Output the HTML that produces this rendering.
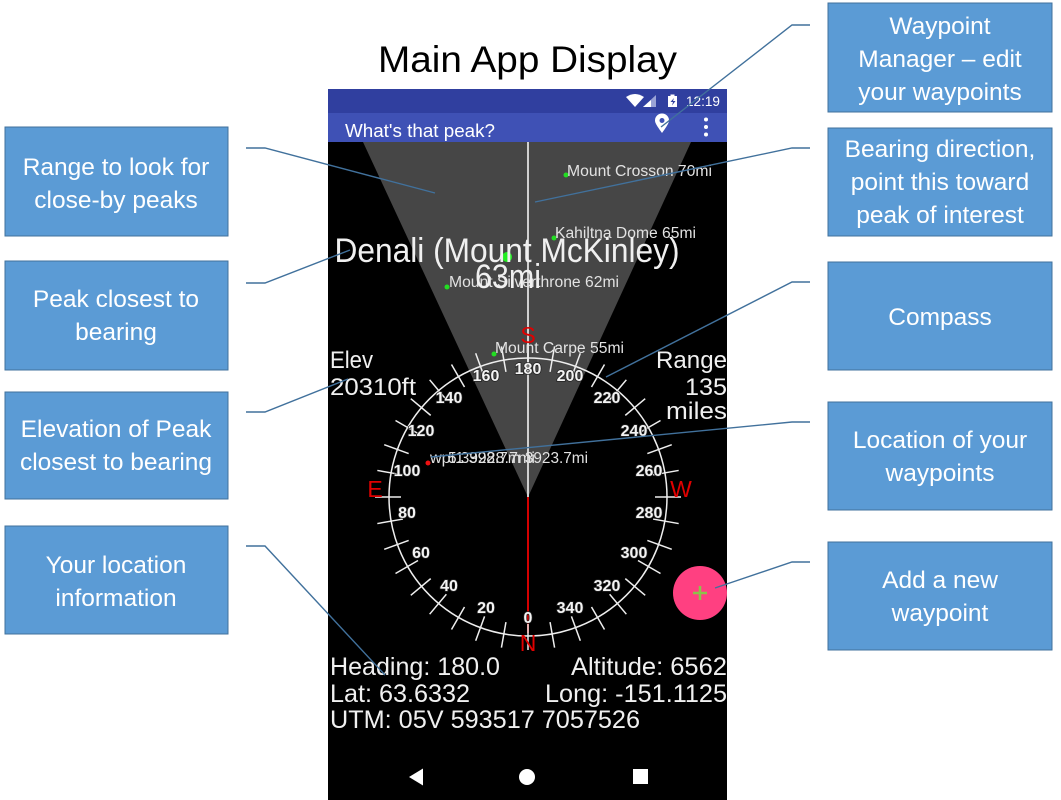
<!DOCTYPE html>
<html><head><meta charset="utf-8"><style>
html,body{margin:0;padding:0;background:#fff;}
svg{display:block;}
</style></head><body>
<svg width="1061" height="800" viewBox="0 0 1061 800" xmlns="http://www.w3.org/2000/svg" font-family="'Liberation Sans', sans-serif">
<defs><clipPath id="ph"><rect x="328" y="89" width="399" height="711"/></clipPath></defs>
<rect width="1061" height="800" fill="#fff"/>
<text x="378" y="72" font-size="37" textLength="299" lengthAdjust="spacingAndGlyphs" fill="#000">Main App Display</text>

<g clip-path="url(#ph)">
  <rect x="328" y="89" width="399" height="24" fill="#303f9f"/>
  <rect x="328" y="113" width="399" height="30" fill="#3f51b5"/>
  <!-- status icons -->
  <path d="M626,97 Q635,91 644,97 L635,107 Z" fill="#fff"/>
  <path d="M643,107 L656,107 L656,95 Z" fill="#9aa3d6"/>
  <path d="M643,107 L651,107 L651,100 Z" fill="#fff"/>
  <rect x="668" y="96" width="9" height="11" fill="#fff"/>
  <rect x="670.5" y="94.5" width="4" height="2" fill="#fff"/>
  <path d="M674,98 L670.5,102 L673,102 L672,105.5 L675.5,101 L673,101 Z" fill="#303f9f"/>
  <text x="686" y="106" font-size="14" textLength="34" lengthAdjust="spacingAndGlyphs" fill="#fff">12:19</text>
  <text x="345" y="137" font-size="18.5" textLength="150" lengthAdjust="spacingAndGlyphs" fill="#fff">What's that peak?</text>
  <path d="M662,133 C657,126 655,123 655,120.5 A7,7 0 0 1 669,120.5 C669,123 667,126 662,133 Z" fill="#fff"/>
  <circle cx="662" cy="120.5" r="2.5" fill="#3f51b5"/>
  <circle cx="706" cy="119.5" r="2" fill="#fff"/>
  <circle cx="706" cy="127" r="2" fill="#fff"/>
  <circle cx="706" cy="134.5" r="2" fill="#fff"/>

  <rect x="328" y="142" width="399" height="658" fill="#000"/>
  <polygon points="363,142 691,142 528,497" fill="#464646"/>
  <line x1="528" y1="142" x2="528" y2="497" stroke="#d0d0d0" stroke-width="2"/>
  <line x1="528" y1="497" x2="528" y2="633" stroke="#d40000" stroke-width="2"/>

  <!-- compass -->
  <g stroke="#eee" stroke-width="1.5" fill="none">
    <circle cx="528" cy="497" r="139"/>
    <line x1="528" y1="624" x2="528" y2="650" transform="rotate(0 528 497)"/>
    <line x1="528" y1="624" x2="528" y2="650" transform="rotate(10 528 497)"/>
    <line x1="528" y1="624" x2="528" y2="650" transform="rotate(20 528 497)"/>
    <line x1="528" y1="624" x2="528" y2="650" transform="rotate(30 528 497)"/>
    <line x1="528" y1="624" x2="528" y2="650" transform="rotate(40 528 497)"/>
    <line x1="528" y1="624" x2="528" y2="650" transform="rotate(50 528 497)"/>
    <line x1="528" y1="624" x2="528" y2="650" transform="rotate(60 528 497)"/>
    <line x1="528" y1="624" x2="528" y2="650" transform="rotate(70 528 497)"/>
    <line x1="528" y1="624" x2="528" y2="650" transform="rotate(80 528 497)"/>
    <line x1="528" y1="624" x2="528" y2="650" transform="rotate(90 528 497)"/>
    <line x1="528" y1="624" x2="528" y2="650" transform="rotate(100 528 497)"/>
    <line x1="528" y1="624" x2="528" y2="650" transform="rotate(110 528 497)"/>
    <line x1="528" y1="624" x2="528" y2="650" transform="rotate(120 528 497)"/>
    <line x1="528" y1="624" x2="528" y2="650" transform="rotate(130 528 497)"/>
    <line x1="528" y1="624" x2="528" y2="650" transform="rotate(140 528 497)"/>
    <line x1="528" y1="624" x2="528" y2="650" transform="rotate(150 528 497)"/>
    <line x1="528" y1="624" x2="528" y2="650" transform="rotate(160 528 497)"/>
    <line x1="528" y1="624" x2="528" y2="650" transform="rotate(170 528 497)"/>
    <line x1="528" y1="624" x2="528" y2="650" transform="rotate(180 528 497)"/>
    <line x1="528" y1="624" x2="528" y2="650" transform="rotate(190 528 497)"/>
    <line x1="528" y1="624" x2="528" y2="650" transform="rotate(200 528 497)"/>
    <line x1="528" y1="624" x2="528" y2="650" transform="rotate(210 528 497)"/>
    <line x1="528" y1="624" x2="528" y2="650" transform="rotate(220 528 497)"/>
    <line x1="528" y1="624" x2="528" y2="650" transform="rotate(230 528 497)"/>
    <line x1="528" y1="624" x2="528" y2="650" transform="rotate(240 528 497)"/>
    <line x1="528" y1="624" x2="528" y2="650" transform="rotate(250 528 497)"/>
    <line x1="528" y1="624" x2="528" y2="650" transform="rotate(260 528 497)"/>
    <line x1="528" y1="624" x2="528" y2="650" transform="rotate(270 528 497)"/>
    <line x1="528" y1="624" x2="528" y2="650" transform="rotate(280 528 497)"/>
    <line x1="528" y1="624" x2="528" y2="650" transform="rotate(290 528 497)"/>
    <line x1="528" y1="624" x2="528" y2="650" transform="rotate(300 528 497)"/>
    <line x1="528" y1="624" x2="528" y2="650" transform="rotate(310 528 497)"/>
    <line x1="528" y1="624" x2="528" y2="650" transform="rotate(320 528 497)"/>
    <line x1="528" y1="624" x2="528" y2="650" transform="rotate(330 528 497)"/>
    <line x1="528" y1="624" x2="528" y2="650" transform="rotate(340 528 497)"/>
    <line x1="528" y1="624" x2="528" y2="650" transform="rotate(350 528 497)"/>
  </g>
  <g font-size="16" font-weight="bold" fill="#f4f4f4" text-anchor="middle" stroke="#222" stroke-width="1.5" paint-order="stroke">
    <text x="528" y="623">0</text>
    <text x="486" y="613">20</text>
    <text x="449" y="591">40</text>
    <text x="421" y="558">60</text>
    <text x="407" y="518">80</text>
    <text x="407" y="476">100</text>
    <text x="421" y="436">120</text>
    <text x="449" y="403">140</text>
    <text x="486" y="381">160</text>
    <text x="528" y="374">180</text>
    <text x="570" y="381">200</text>
    <text x="607" y="403">220</text>
    <text x="634" y="436">240</text>
    <text x="649" y="476">260</text>
    <text x="649" y="518">280</text>
    <text x="634" y="558">300</text>
    <text x="607" y="591">320</text>
    <text x="570" y="613">340</text>
  </g>
  <g font-size="23" fill="#e00000" text-anchor="middle">
    <text x="528" y="343">S</text>
    <text x="375" y="497">E</text>
    <text x="681" y="497">W</text>
    <text x="528" y="651">N</text>
  </g>

  <!-- peaks -->
  <g font-size="15.5" fill="#e2e2e2">
    <circle cx="566" cy="175" r="2.5" fill="#22dd22"/>
    <text x="567" y="176" textLength="145" lengthAdjust="spacingAndGlyphs">Mount Crosson 70mi</text>
    <circle cx="554" cy="238" r="2.5" fill="#22dd22"/>
    <text x="555" y="238" textLength="141" lengthAdjust="spacingAndGlyphs">Kahiltna Dome 65mi</text>
    <circle cx="447" cy="287" r="2.5" fill="#22dd22"/>
    <text x="449" y="287" textLength="170" lengthAdjust="spacingAndGlyphs">Mount Silverthrone 62mi</text>
    <circle cx="494" cy="354" r="2.5" fill="#22dd22"/>
    <text x="495" y="353" textLength="129" lengthAdjust="spacingAndGlyphs">Mount Carpe 55mi</text>
    <circle cx="428" cy="463" r="2.5" fill="#ee1111"/>
    <text x="430" y="463" textLength="105" lengthAdjust="spacingAndGlyphs">wpt1 3928.7mi</text>
    <text x="448" y="463" textLength="140" lengthAdjust="spacingAndGlyphs">5.3928.7m 3923.7mi</text>
  </g>
  <circle cx="507" cy="257" r="5" fill="#22ee22"/>
  <g font-size="34" fill="#f0f0f0" text-anchor="middle">
    <text x="507" y="262" textLength="345" lengthAdjust="spacingAndGlyphs">Denali (Mount McKinley)</text>
    <text x="508" y="288" textLength="66" lengthAdjust="spacingAndGlyphs">63mi</text>
  </g>

  <!-- elev/range -->
  <g font-size="24" fill="#f0f0f0">
    <text x="330" y="368" textLength="43" lengthAdjust="spacingAndGlyphs">Elev</text>
    <text x="330" y="395" textLength="86" lengthAdjust="spacingAndGlyphs">20310ft</text>
    <text x="656" y="368" textLength="71" lengthAdjust="spacingAndGlyphs">Range</text>
    <text x="685" y="395" textLength="42" lengthAdjust="spacingAndGlyphs">135</text>
    <text x="666" y="419" textLength="61" lengthAdjust="spacingAndGlyphs">miles</text>
  </g>

  <!-- FAB -->
  <circle cx="700" cy="593" r="27" fill="#ff4081"/>
  <path d="M700,586 V600 M693,593 H707" stroke="#8bc34a" stroke-width="2.5"/>

  <!-- bottom info -->
  <g font-size="25" fill="#f0f0f0">
    <text x="330" y="675" textLength="170" lengthAdjust="spacingAndGlyphs">Heading: 180.0</text>
    <text x="571" y="675" textLength="156" lengthAdjust="spacingAndGlyphs">Altitude: 6562</text>
    <text x="330" y="702" textLength="140" lengthAdjust="spacingAndGlyphs">Lat: 63.6332</text>
    <text x="545" y="702" textLength="182" lengthAdjust="spacingAndGlyphs">Long: -151.1125</text>
    <text x="330" y="728" textLength="310" lengthAdjust="spacingAndGlyphs">UTM: 05V 593517 7057526</text>
  </g>

  <!-- nav bar -->
  <path d="M409,777 L423,768.5 L423,785.5 Z" fill="#fff"/>
  <circle cx="527" cy="777" r="8" fill="#fff"/>
  <rect x="633" y="769" width="15" height="15" fill="#fff"/>
</g>

<!-- callout boxes -->
<g fill="#5b9bd5" stroke="#41719c" stroke-width="1">
  <rect x="5" y="127" width="223" height="109"/>
  <rect x="5" y="261" width="223" height="109"/>
  <rect x="5" y="392" width="223" height="107"/>
  <rect x="5" y="526" width="223" height="108"/>
  <rect x="828" y="3" width="224" height="109"/>
  <rect x="828" y="128" width="224" height="108"/>
  <rect x="828" y="262" width="224" height="108"/>
  <rect x="828" y="402" width="224" height="108"/>
  <rect x="828" y="542" width="224" height="108"/>
</g>
<g font-size="24.5" fill="#fff" text-anchor="middle">
  <text x="116" y="175">Range to look for</text>
  <text x="116" y="208">close-by peaks</text>
  <text x="116" y="307">Peak closest to</text>
  <text x="116" y="340">bearing</text>
  <text x="116" y="437">Elevation of Peak</text>
  <text x="116" y="470">closest to bearing</text>
  <text x="116" y="573">Your location</text>
  <text x="116" y="606">information</text>
  <text x="940" y="34">Waypoint</text>
  <text x="940" y="67">Manager – edit</text>
  <text x="940" y="100">your waypoints</text>
  <text x="940" y="157">Bearing direction,</text>
  <text x="940" y="190">point this toward</text>
  <text x="940" y="223">peak of interest</text>
  <text x="940" y="325">Compass</text>
  <text x="940" y="448">Location of your</text>
  <text x="940" y="481">waypoints</text>
  <text x="940" y="588">Add a new</text>
  <text x="940" y="621">waypoint</text>
</g>

<!-- connectors -->
<g fill="none" stroke="#41719c" stroke-width="1.4">
  <polyline points="246,148 265,148 435,193"/>
  <polyline points="246,283 265,283 350,250"/>
  <polyline points="246,412 265,412 348,379"/>
  <polyline points="246,546 265,546 385,675"/>
  <polyline points="810,25 792,25 661,127"/>
  <polyline points="810,148 792,148 535,202"/>
  <polyline points="810,282 792,282 606,377"/>
  <polyline points="810,422 792,422 431,457"/>
  <polyline points="810,562 792,562 715,588"/>
</g>
</svg>
</body></html>
